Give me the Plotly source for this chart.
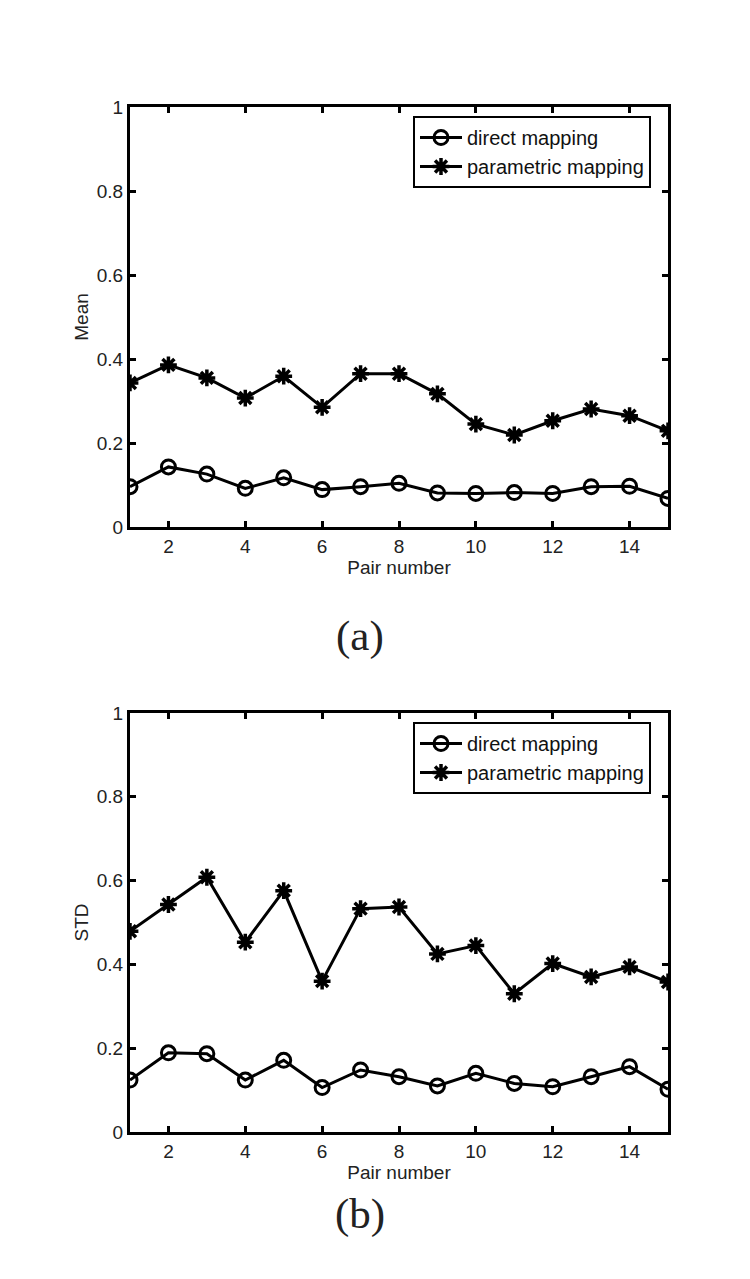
import plotly.graph_objects as go

# data
pairs = list(range(1, 16))
mean_direct = [0.096, 0.143, 0.126, 0.092, 0.117, 0.089, 0.096, 0.104, 0.081, 0.080, 0.082, 0.080, 0.096, 0.097, 0.068]
mean_param = [0.343, 0.386, 0.355, 0.307, 0.359, 0.285, 0.365, 0.365, 0.317, 0.245, 0.219, 0.253, 0.281, 0.265, 0.229]
std_direct = [0.124, 0.189, 0.187, 0.124, 0.171, 0.106, 0.148, 0.132, 0.110, 0.140, 0.116, 0.108, 0.132, 0.156, 0.102]
std_param = [0.479, 0.543, 0.608, 0.453, 0.576, 0.360, 0.533, 0.537, 0.425, 0.445, 0.330, 0.402, 0.370, 0.394, 0.358]
x_ticks = [2, 4, 6, 8, 10, 12, 14]
y_ticks = [0, 0.2, 0.4, 0.6, 0.8, 1]
y_labels = ["0", "0.2", "0.4", "0.6", "0.8", "1"]

# page body has an 8px margin, so the figure is a bit smaller than the window
OFF = 8
W, H = 750 - 2 * OFF, 1279 - 2 * OFF
FONT = "Liberation Sans, Arial, sans-serif"


def px_x(p):
    return (p - OFF) / W


def px_y(p):
    return 1 - (p - OFF) / H


fig = go.Figure()

panels = [
    ("", "legend", mean_direct, mean_param),
    ("2", "legend2", std_direct, std_param),
]
for ax, leg, d, p in panels:
    fig.add_trace(go.Scatter(
        x=pairs, y=d, mode="lines+markers", name="direct mapping",
        xaxis="x" + ax, yaxis="y" + ax, legend=leg,
        line=dict(color="black", width=3),
        marker=dict(symbol="circle-open", size=14, color="black", line=dict(width=3)),
    ))
    fig.add_trace(go.Scatter(
        x=pairs, y=p, mode="lines+markers", name="parametric mapping",
        xaxis="x" + ax, yaxis="y" + ax, legend=leg,
        line=dict(color="black", width=3),
        marker=dict(symbol="asterisk-open", size=14, color="black", line=dict(width=3.5, color="black")),
    ))

xdom = [px_x(130), px_x(668)]
top_dom = [px_y(527), px_y(107)]
bot_dom = [px_y(1132), px_y(713)]

ax_common = dict(
    showline=True, linecolor="black", linewidth=3, mirror="ticks",
    ticks="inside", ticklen=6, tickwidth=3, tickcolor="black",
    showgrid=False, zeroline=False, automargin=False,
    tickfont=dict(family=FONT, size=19, color="#222"),
)

legend_style = dict(
    xanchor="right", yanchor="top",
    bgcolor="white", bordercolor="black", borderwidth=2,
    font=dict(family=FONT, size=20, color="#111"),
    itemwidth=42, tracegroupgap=0,
)

fig.update_layout(
    width=W, height=H,
    margin=dict(l=0, r=0, t=0, b=0, autoexpand=False),
    paper_bgcolor="white", plot_bgcolor="white",
    font=dict(family=FONT, color="#222"),
    xaxis=dict(domain=xdom, anchor="y", range=[1, 15], tickvals=x_ticks,
               title=dict(text="Pair number", font=dict(size=19), standoff=2), **ax_common),
    yaxis=dict(domain=top_dom, anchor="x", range=[0, 1], tickvals=y_ticks, ticktext=y_labels,
               title=dict(text="Mean", font=dict(size=19), standoff=4), **ax_common),
    xaxis2=dict(domain=xdom, anchor="y2", range=[1, 15], tickvals=x_ticks,
                title=dict(text="Pair number", font=dict(size=19), standoff=2), **ax_common),
    yaxis2=dict(domain=bot_dom, anchor="x2", range=[0, 1], tickvals=y_ticks, ticktext=y_labels,
                title=dict(text="STD", font=dict(size=19), standoff=4), **ax_common),
    legend=dict(x=px_x(651), y=px_y(116), **legend_style),
    legend2=dict(x=px_x(651), y=px_y(722), **legend_style),
)

for label, ypx in [("(a)", 636), ("(b)", 1240)]:
    fig.add_annotation(text=label, x=px_x(360), y=px_y(ypx), xref="paper", yref="paper",
                       showarrow=False,
                       font=dict(family="Liberation Serif, DejaVu Serif, serif", size=43, color="#222"))

fig.write_html("out.html")
